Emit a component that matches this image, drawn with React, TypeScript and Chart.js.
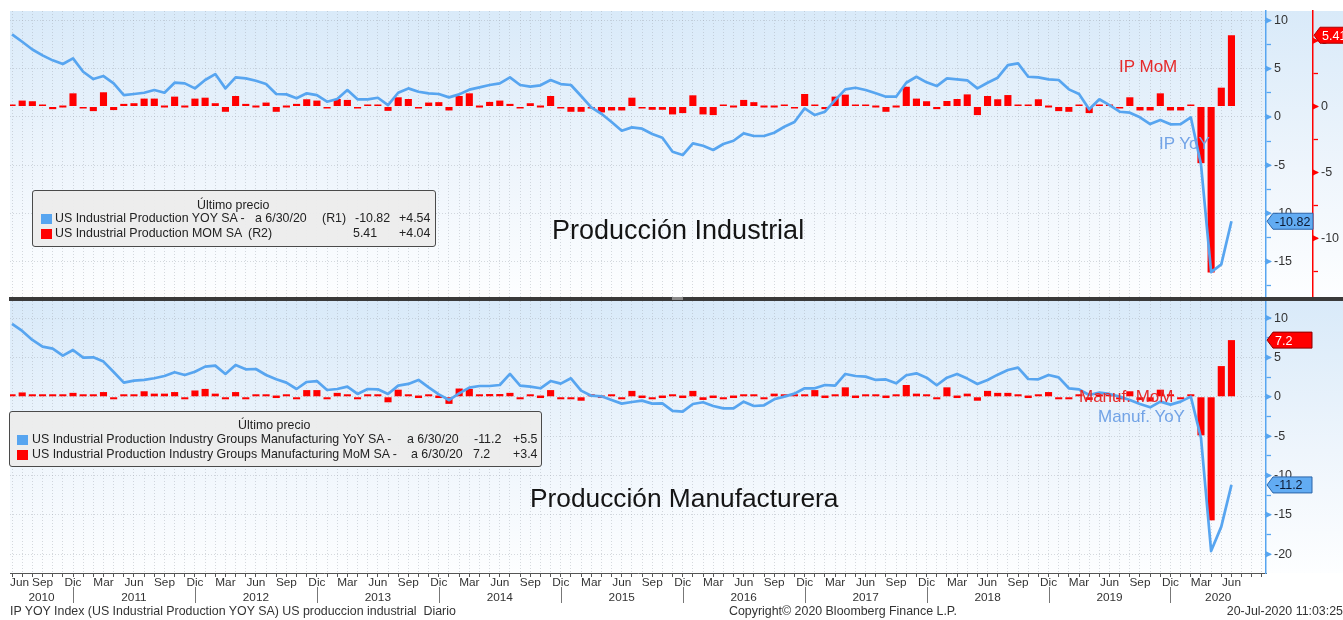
import React, { useEffect, useRef } from 'react';
import { Chart, registerables } from 'chart.js';

Chart.register(...registerables);

const FONT = '"Liberation Sans", Arial, Helvetica, sans-serif';
const BLUE = '#57a5f0';
const RED = '#ff0000';
const GRID = 'rgba(160,168,176,0.42)';
const X_MIN = -0.2;
const X_MAX = 123.4;

// Month index 0 = Jun 2010 ... 120 = Jun 2020
const monthNames = ['Jun', 'Sep', 'Dic', 'Mar'];
const yearLabels = ['2010', '2011', '2012', '2013', '2014', '2015', '2016', '2017', '2018', '2019', '2020'];
const yearSeparators = [6, 18, 30, 42, 54, 66, 78, 90, 102, 114];

const ipYoY = [
  8.57, 7.8, 7.0, 6.39, 5.87, 5.49, 6.08, 4.69, 3.93, 4.24,
  3.49, 2.27, 2.38, 2.51, 2.79, 2.51, 3.55, 3.48, 2.96, 3.83,
  4.45, 2.96, 4.1, 4.0, 3.76, 3.41, 2.38, 2.34, 1.93, 2.45,
  2.27, 1.58, 1.86, 2.79, 1.83, 1.83, 1.99, 1.23, 2.51, 2.96,
  2.61, 2.45, 2.38, 2.03, 2.34, 2.83, 3.07, 3.31, 3.48, 4.1,
  3.31, 3.14, 3.28, 3.83, 3.41, 3.31, 2.17, 1.0, 0.33, -0.53,
  -1.43, -1.08, -1.22, -1.77, -2.16, -3.61, -3.95, -2.74, -2.99, -3.43,
  -2.81, -2.47, -1.7, -1.98, -1.98, -1.64, -1.02, -0.53, 0.89, 0.2,
  0.54, 1.75, 2.86, 3.03, 2.79, 2.45, 2.1, 2.1, 3.55, 4.17,
  3.59, 3.2, 4.0, 3.9, 3.8, 2.96, 3.55, 4.07, 5.38, 5.56,
  4.17, 4.1, 3.9, 3.83, 2.86, 2.38, 0.79, 1.83, 1.23, 0.54,
  0.44, -0.04, -0.74, -0.32, -0.77, -0.74, -0.04, -4.9, -16.1, -15.3,
  -10.82,
];

const ipMoM = [
  0.1, 0.45, 0.4, 0.1, -0.2, 0.0, 1.0, -0.05, -0.35, 1.08,
  -0.27, 0.2, 0.25, 0.6, 0.6, 0.0, 0.75, 0.0, 0.6, 0.67,
  0.25, -0.4, 0.8, 0.2, 0.0, 0.3, -0.4, 0.0, 0.2, 0.55,
  0.45, -0.1, 0.57, 0.5, -0.1, 0.15, 0.15, -0.33, 0.7, 0.57,
  -0.05, 0.3, 0.33, -0.3, 0.8, 1.0, 0.0, 0.35, 0.45, 0.2,
  -0.05, 0.25, 0.0, 0.8, -0.05, -0.4, -0.4, -0.15, -0.45, -0.3,
  -0.3, 0.67, -0.05, -0.25, -0.25, -0.6, -0.5, 0.85, -0.6, -0.65,
  0.05, 0.0, 0.5, 0.33, 0.0, 0.0, 0.15, -0.15, 0.95, 0.1,
  -0.2, 0.75, 0.9, 0.1, 0.1, 0.0, -0.4, 0.0, 1.5, 0.6,
  0.4, -0.2, 0.42, 0.57, 0.92, -0.65, 0.8, 0.55, 0.87, 0.1,
  0.1, 0.55, 0.0, -0.35, -0.4, 0.1, -0.5, 0.15, 0.1, -0.05,
  0.7, -0.3, -0.3, 1.0, -0.3, -0.3, 0.1, -4.3, -12.6, 1.43,
  5.41,
];

const mfgYoY = [
  9.25, 8.36, 7.22, 6.37, 6.12, 5.23, 5.95, 4.97, 5.01, 4.47,
  3.15, 1.8, 2.05, 2.14, 2.35, 2.64, 3.11, 2.77, 3.19, 3.83,
  3.96, 2.9, 4.04, 3.49, 3.53, 2.77, 2.22, 1.8, 0.99, 1.88,
  2.0, 0.86, 0.99, 1.29, 0.36, 0.99, 0.95, 0.36, 1.42, 1.63,
  2.14, 1.2, 0.31, -0.41, 0.44, 1.16, 1.37, 1.37, 1.5, 2.9,
  1.42, 1.29, 1.08, 2.0, 1.67, 2.35, 0.78, 0.14, 0.06, -0.41,
  -0.87, -0.66, -0.49, -0.87, -0.83, -1.8, -1.89, -0.92, -0.7, -1.17,
  -1.47, -1.47, -0.62, -1.17, -1.08, -0.32, 0.02, 0.4, 1.08, 1.08,
  1.5, 1.42, 2.9, 2.64, 2.56, 2.14, 2.2, 1.71, 2.73, 2.98,
  2.43, 1.46, 2.43, 2.9, 2.31, 1.63, 2.14, 2.81, 3.41, 3.7,
  2.26, 2.22, 2.77, 2.47, 1.08, 0.95, 0.23, 0.53, 0.36, 0.02,
  -0.41, -0.92, -1.34, -0.62, -1.0, -0.62, 0.02, -5.2, -19.6, -16.5,
  -11.2,
];

const mfgMoM = [
  0.1, 0.55, 0.05, 0.05, 0.05, 0.05, 0.5, 0.3, 0.25, 0.6,
  -0.3, 0.05, 0.05, 0.7, 0.4, 0.4, 0.6, -0.1, 0.8, 1.0,
  0.4, -0.3, 0.6, -0.25, 0.25, 0.05, 0.0, 0.05, -0.2, 0.85,
  0.85, -0.15, 0.5, 0.05, -0.2, 0.3, 0.3, -0.7, 0.9, 0.05,
  0.0, 0.05, 0.0, -0.9, 1.05, 1.0, 0.3, 0.35, 0.35, 0.5,
  -0.3, 0.05, 0.0, 0.85, -0.1, -0.1, -0.5, 0.3, 0.0, 0.05,
  -0.2, 0.75, 0.0, -0.15, 0.0, 0.05, 0.0, 0.75, -0.4, 0.0,
  -0.15, 0.0, 0.3, 0.3, -0.2, 0.4, 0.3, 0.05, 0.3, 0.85,
  0.0, 0.05, 1.2, 0.0, 0.3, 0.05, 0.0, 0.05, 1.5, 0.4,
  0.05, -0.25, 1.2, 0.0, 0.4, -0.5, 0.75, 0.5, 0.5, 0.05,
  0.0, 0.05, 0.6, -0.3, -0.3, 0.1, -0.4, 0.2, 0.3, -0.3,
  0.7, -0.4, -0.6, 0.9, 0.1, -0.1, 0.05, -4.9, -15.7, 3.9,
  7.2,
];

const LAST = ipYoY.length - 1;
const monthIndex = Array.from({ length: 124 }, (_, i) => i);

const isMajor = (v: number) => Math.abs(v % 5) < 1e-6;

function xAxis(height: number, showTicks: boolean) {
  return {
    type: 'linear',
    bounds: 'data',
    min: X_MIN,
    max: X_MAX,
    offset: false,
    afterBuildTicks: (s: any) => {
      s.ticks = monthIndex.map((v) => ({ value: v }));
    },
    afterFit: (s: any) => {
      s.height = height;
      s.paddingLeft = 0;
      s.paddingRight = 0;
    },
    ticks: { display: false, autoSkip: false },
    grid: {
      color: GRID,
      lineWidth: 1,
      offset: false,
      drawTicks: showTicks,
      tickLength: 4,
      tickColor: '#555',
      tickWidth: 1,
    },
    border: { display: showTicks, color: '#555', width: 1, dash: [1, 2] },
  };
}

function yAxis(min: number, max: number, lo: number, hi: number, width: number, color: string, weight: number, gridOn: boolean) {
  return {
    type: 'linear',
    position: 'right',
    bounds: 'data',
    min,
    max,
    weight,
    afterBuildTicks: (s: any) => {
      const t: any[] = [];
      for (let v = lo; v <= hi + 1e-6; v += 2.5) t.push({ value: v });
      s.ticks = t;
    },
    afterFit: (s: any) => {
      s.width = width;
      s.paddingTop = 0;
      s.paddingBottom = 0;
    },
    ticks: {
      autoSkip: false,
      callback: (v: any) => (isMajor(Number(v)) ? String(v) : ''),
      color: '#333',
      font: { family: FONT, size: 12.5 },
      padding: 3,
    },
    grid: {
      drawOnChartArea: gridOn,
      color: (c: any) => (gridOn && c.tick && isMajor(c.tick.value) ? GRID : 'rgba(0,0,0,0)'),
      tickColor: color,
      tickLength: 5,
      tickWidth: 1.3,
      lineWidth: 1,
    },
    border: { color, width: 1.5, dash: [1, 2] },
  };
}

const bgPlugin = {
  id: 'bg',
  beforeDraw(chart: any) {
    const { ctx, chartArea: a, width } = chart;
    const g = ctx.createLinearGradient(0, a.top, 0, a.bottom);
    g.addColorStop(0, '#d9eaf9');
    g.addColorStop(0.55, '#eef5fc');
    g.addColorStop(1, '#fdfeff');
    ctx.save();
    ctx.fillStyle = g;
    ctx.fillRect(a.left, a.top, width - a.left, a.bottom - a.top);
    ctx.restore();
  },
};

// small arrow heads on the major ticks of right axes
const arrowPlugin = {
  id: 'arrows',
  afterDraw(chart: any) {
    const ctx = chart.ctx;
    ctx.save();
    Object.values(chart.scales).forEach((sc: any) => {
      if (sc.axis !== 'y') return;
      const col = sc.options.border.color;
      ctx.fillStyle = col;
      sc.ticks.forEach((t: any) => {
        if (!isMajor(t.value)) return;
        const y = sc.getPixelForValue(t.value);
        const x = sc.left;
        ctx.beginPath();
        ctx.moveTo(x, y - 3);
        ctx.lineTo(x + 6, y);
        ctx.lineTo(x, y + 3);
        ctx.closePath();
        ctx.fill();
      });
    });
    ctx.restore();
  },
};

type Tag = { axis: string; value: number; text: string; fill: string; stroke: string; color: string; w: number };

function tagPlugin(tags: Tag[]) {
  return {
    id: 'tags',
    afterDraw(chart: any) {
      const ctx = chart.ctx;
      ctx.save();
      tags.forEach((t) => {
        const sc = chart.scales[t.axis];
        const y = sc.getPixelForValue(t.value);
        const x = sc.left + 1;
        const h = 16;
        ctx.beginPath();
        ctx.moveTo(x, y);
        ctx.lineTo(x + 6, y - h / 2);
        ctx.lineTo(x + t.w, y - h / 2);
        ctx.lineTo(x + t.w, y + h / 2);
        ctx.lineTo(x + 6, y + h / 2);
        ctx.closePath();
        ctx.fillStyle = t.fill;
        ctx.fill();
        ctx.lineWidth = 1;
        ctx.strokeStyle = t.stroke;
        ctx.stroke();
        ctx.fillStyle = t.color;
        ctx.font = `12.5px ${FONT}`;
        ctx.textAlign = 'left';
        ctx.textBaseline = 'middle';
        ctx.fillText(t.text, x + 8, y + 1);
      });
      ctx.restore();
    },
  };
}

const xLabelPlugin = {
  id: 'xlabels',
  afterDraw(chart: any) {
    const ctx = chart.ctx;
    const xs = chart.scales.x;
    const a = chart.chartArea;
    const base = a.bottom;
    ctx.save();
    ctx.font = `11.8px ${FONT}`;
    ctx.fillStyle = '#333';
    ctx.textBaseline = 'alphabetic';
    ctx.textAlign = 'left';
    for (let i = 0; i <= LAST; i += 3) {
      const label = monthNames[(i / 3) % 4];
      const w = ctx.measureText(label).width;
      let x = xs.getPixelForValue(i) - w / 2;
      if (x < a.left) x = a.left;
      ctx.fillText(label, x, base + 13);
    }
    ctx.strokeStyle = '#777';
    ctx.lineWidth = 1;
    yearSeparators.forEach((i) => {
      const x = Math.round(xs.getPixelForValue(i)) + 0.5;
      ctx.beginPath();
      ctx.moveTo(x, base + 14);
      ctx.lineTo(x, base + 30);
      ctx.stroke();
    });
    const bounds = [X_MIN, ...yearSeparators, X_MAX];
    ctx.textAlign = 'center';
    yearLabels.forEach((yl, k) => {
      ctx.fillText(yl, xs.getPixelForValue((bounds[k] + bounds[k + 1]) / 2), base + 28);
    });
    ctx.restore();
  },
};

const toXY = (arr: number[]) => arr.map((y, x) => ({ x, y }));

function baseOptions(padTop: number) {
  return {
    responsive: false,
    maintainAspectRatio: false,
    animation: false,
    events: [],
    devicePixelRatio: 1,
    layout: { padding: { left: 10, top: padTop, right: 0, bottom: 0 } },
    plugins: { legend: { display: false }, tooltip: { enabled: false }, title: { display: false } },
  };
}

function topConfig(): any {
  return {
    type: 'bar',
    data: {
      datasets: [
        {
          type: 'line', label: 'IP YoY', data: toXY(ipYoY), xAxisID: 'x', yAxisID: 'yL',
          borderColor: BLUE, borderWidth: 2.7, pointRadius: 0, tension: 0, order: 0, borderJoinStyle: 'round',
        },
        {
          type: 'bar', label: 'IP MoM', data: toXY(ipMoM), xAxisID: 'x', yAxisID: 'yR',
          backgroundColor: RED, barPercentage: 0.7, categoryPercentage: 1, minBarLength: 2, order: 1,
        },
      ],
    },
    options: {
      ...baseOptions(11),
      scales: {
        x: xAxis(0, false),
        yL: yAxis(-18.68, 10.99, -17.5, 10, 47, BLUE, 0, true),
        yR: yAxis(-14.46, 7.25, -12.5, 5, 30, RED, 1, false),
      },
    },
    plugins: [
      bgPlugin,
      arrowPlugin,
      tagPlugin([
        { axis: 'yL', value: ipYoY[LAST], text: String(ipYoY[LAST]), fill: '#62acf3', stroke: '#2a64a8', color: '#0c1a33', w: 46 },
        { axis: 'yR', value: ipMoM[LAST], text: String(ipMoM[LAST]), fill: RED, stroke: '#b00000', color: '#ffffff', w: 40 },
      ]),
    ],
  };
}

function bottomConfig(): any {
  return {
    type: 'bar',
    data: {
      datasets: [
        {
          type: 'line', label: 'Manuf. YoY', data: toXY(mfgYoY), xAxisID: 'x', yAxisID: 'yL',
          borderColor: BLUE, borderWidth: 2.7, pointRadius: 0, tension: 0, order: 0, borderJoinStyle: 'round',
        },
        {
          type: 'bar', label: 'Manuf. MoM', data: toXY(mfgMoM), xAxisID: 'x', yAxisID: 'yL',
          backgroundColor: RED, barPercentage: 0.7, categoryPercentage: 1, minBarLength: 2.5, order: 1,
        },
      ],
    },
    options: {
      ...baseOptions(1),
      scales: {
        x: xAxis(47, true),
        yL: yAxis(-22.39, 12.17, -20, 10, 77, BLUE, 0, true),
      },
    },
    plugins: [
      bgPlugin,
      arrowPlugin,
      xLabelPlugin,
      tagPlugin([
        { axis: 'yL', value: mfgMoM[LAST], text: String(mfgMoM[LAST]), fill: RED, stroke: '#8a0000', color: '#ffffff', w: 45 },
        { axis: 'yL', value: mfgYoY[LAST], text: String(mfgYoY[LAST]), fill: '#62acf3', stroke: '#2a64a8', color: '#0c1a33', w: 45 },
      ]),
    ],
  };
}

const T = ({ x, y, s, c = '#222', children, right }: any) => (
  <div
    style={{
      position: 'absolute',
      left: right === undefined ? x : undefined,
      right,
      top: y,
      fontSize: s,
      lineHeight: 1,
      color: c,
      fontFamily: FONT,
      whiteSpace: 'pre',
    }}
  >
    {children}
  </div>
);

const Sq = ({ x, y, c }: any) => (
  <div style={{ position: 'absolute', left: x, top: y, width: 11, height: 10, background: c }} />
);

const LS = 12.4;

export default function App() {
  const topRef = useRef<HTMLCanvasElement>(null);
  const botRef = useRef<HTMLCanvasElement>(null);

  useEffect(() => {
    const c1 = new Chart(topRef.current as HTMLCanvasElement, topConfig());
    const c2 = new Chart(botRef.current as HTMLCanvasElement, bottomConfig());
    return () => {
      c1.destroy();
      c2.destroy();
    };
  }, []);

  return (
    <div style={{ position: 'absolute', left: 0, top: 0, width: 1343, height: 620, background: '#fff', overflow: 'hidden' }}>
      <canvas ref={topRef} width={1343} height={297} style={{ position: 'absolute', left: 0, top: 0, width: 1343, height: 297 }} />
      <canvas ref={botRef} width={1343} height={320} style={{ position: 'absolute', left: 0, top: 300, width: 1343, height: 320 }} />

      {/* panel separator */}
      <div style={{ position: 'absolute', left: 9, top: 297, width: 1334, height: 4, background: '#3a3a3a' }} />
      <div style={{ position: 'absolute', left: 672, top: 297, width: 11, height: 3, background: '#8a8a8a' }} />

      {/* top legend */}
      <div
        style={{
          position: 'absolute', left: 32, top: 190, width: 404, height: 57, boxSizing: 'border-box',
          background: 'rgba(236,236,236,0.95)', border: '1.5px solid #4a4a4a', borderRadius: 3,
        }}
      />
      <T x={197} y={199} s={LS}>Último precio</T>
      <Sq x={41} y={214} c={BLUE} />
      <Sq x={41} y={229} c={RED} />
      <T x={55} y={212} s={LS}>US Industrial Production YOY SA -</T>
      <T x={255} y={212} s={LS}>a 6/30/20</T>
      <T x={322} y={212} s={LS}>(R1)</T>
      <T x={355} y={212} s={LS}>-10.82</T>
      <T x={399} y={212} s={LS}>+4.54</T>
      <T x={55} y={227} s={LS}>US Industrial Production MOM SA</T>
      <T x={248} y={227} s={LS}>(R2)</T>
      <T x={353} y={227} s={LS}>5.41</T>
      <T x={399} y={227} s={LS}>+4.04</T>

      {/* bottom legend */}
      <div
        style={{
          position: 'absolute', left: 9, top: 411, width: 533, height: 56, boxSizing: 'border-box',
          background: 'rgba(236,236,236,0.95)', border: '1.5px solid #4a4a4a', borderRadius: 3,
        }}
      />
      <T x={238} y={419} s={LS}>Último precio</T>
      <Sq x={17} y={435} c={BLUE} />
      <Sq x={17} y={450} c={RED} />
      <T x={32} y={433} s={LS}>US Industrial Production Industry Groups Manufacturing YoY SA -</T>
      <T x={407} y={433} s={LS}>a 6/30/20</T>
      <T x={474} y={433} s={LS}>-11.2</T>
      <T x={513} y={433} s={LS}>+5.5</T>
      <T x={32} y={448} s={LS}>US Industrial Production Industry Groups Manufacturing MoM SA -</T>
      <T x={411} y={448} s={LS}>a 6/30/20</T>
      <T x={473} y={448} s={LS}>7.2</T>
      <T x={513} y={448} s={LS}>+3.4</T>

      {/* titles */}
      <T x={552} y={217} s={27} c="#151515">Producción Industrial</T>
      <T x={530} y={485} s={26.3} c="#151515">Producción Manufacturera</T>

      {/* annotations */}
      <T x={1119} y={58} s={17} c="#e62a2a">IP MoM</T>
      <T x={1159} y={135} s={17} c="#72a3e6">IP YoY</T>
      <T x={1079} y={388} s={17} c="#e62a2a">Manuf. MoM</T>
      <T x={1098} y={408} s={17} c="#72a3e6">Manuf. YoY</T>

      {/* footer */}
      <T x={10} y={605} s={12.4} c="#333">IP YOY Index (US Industrial Production YOY SA) US produccion industrial  Diario</T>
      <T x={729} y={605} s={12.4} c="#333">Copyright© 2020 Bloomberg Finance L.P.</T>
      <T right={0} y={605} s={12.4} c="#333">20-Jul-2020 11:03:25</T>
    </div>
  );
}
